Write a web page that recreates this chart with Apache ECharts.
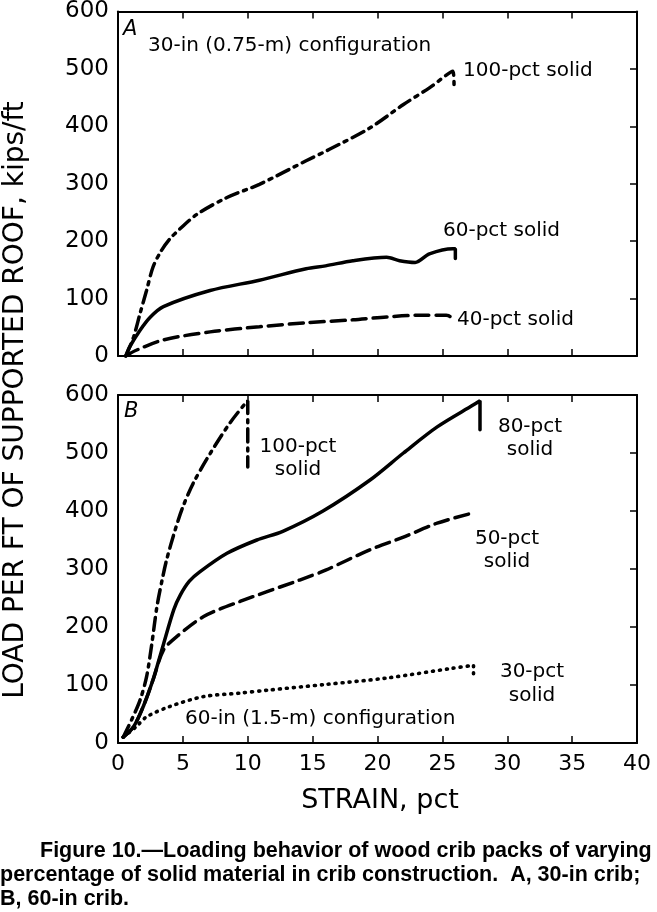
<!DOCTYPE html>
<html><head><meta charset="utf-8">
<script src="https://cdn.jsdelivr.net/npm/echarts@6/dist/echarts.min.js"></script>
<style>html,body{margin:0;padding:0;background:#fff}#c{width:657px;height:912px}</style>
</head><body><div id="c"></div>
<script>
// ---- data (strain pct, load kips/ft) ----
const xTicks = [0,5,10,15,20,25,30,35,40];
const yTicks = [0,100,200,300,400,500,600];
// Panel A: 30-in configuration
const a100 = [[0.6,0],[1.2,33],[1.7,74],[2.2,114],[2.7,155],[3.3,182],[4.0,204],[4.8,222],[6.1,247],[8.4,276],[10.9,299],[14.5,340],[16.3,360],[19.4,397],[22.0,438],[24.0,467],[25.8,496],[25.9,470]];
const a60 = [[0.6,0],[0.9,16],[1.7,45],[2.5,68],[3.5,86],[7.1,114],[10.9,132],[14.5,152],[16.0,157],[18.1,166],[20.7,172],[21.7,166],[22.9,163],[24.0,178],[25.8,187],[26.0,187],[26.0,170]];
const a40 = [[0.6,0],[1.4,10],[3.5,28],[7.1,42],[10.9,51],[14.5,58],[18.1,63],[20.7,68],[23.3,71],[25.3,71],[25.6,68],[25.6,60]];
// Panel B: 60-in configuration
const b100 = [[0.4,10],[1.05,40],[1.7,74],[2.2,114],[2.6,170],[3.0,235],[3.4,281],[3.75,316],[4.4,367],[5.0,407],[5.8,448],[7.1,499],[8.6,551],[9.9,588],[10.0,590],[10.0,476]];
const b80 = [[0.4,10],[1.2,28],[1.95,63],[2.7,109],[3.5,170],[4.3,230],[4.8,255],[5.5,279],[6.3,295],[8.4,327],[10.7,350],[12.7,365],[15.8,400],[19.4,453],[22.0,500],[24.6,545],[27.4,583],[27.9,590],[27.9,540]];
const b50 = [[0.4,10],[1.2,28],[1.95,63],[2.7,109],[3.5,160],[4.5,183],[6.6,218],[9.4,244],[14.0,281],[16.0,298],[19.4,333],[22.0,355],[24.6,379],[27.4,397]];
const b30 = [[0.4,10],[1.4,28],[2.2,45],[4.0,63],[6.6,80],[9.4,86],[11.5,91],[16.0,101],[20.7,112],[25.8,129],[27.4,134],[27.4,117]];

const FONT = 'DejaVu Sans';
const chart = echarts.init(document.getElementById('c'), null, {renderer:'canvas'});
const axisLine = {show:true, onZero:false, lineStyle:{color:'#000', width:2}};
const tick = {show:true, inside:true, length:7, lineStyle:{color:'#000', width:1.5}};
function xAx(grid, pos, labels){
  return {type:'value', gridIndex:grid, position:pos, min:xTicks[0], max:xTicks[xTicks.length-1], interval:5,
    axisLine, axisTick:tick, splitLine:{show:false},
    axisLabel:{show:labels, color:'#000', fontFamily:FONT, fontSize:22, margin:10}};
}
function yAx(grid, pos, labels){
  return {type:'value', gridIndex:grid, position:pos, min:yTicks[0], max:yTicks[yTicks.length-1], interval:100,
    axisLine, axisTick: labels ? {show:false} : tick, splitLine:{show:false},
    axisLabel:{show:labels, color:'#000', fontFamily:FONT, fontSize:23, margin:9}};
}
function ln(data, xi, yi, type, w){
  return {type:'line', data, xAxisIndex:xi, yAxisIndex:yi, showSymbol:false, symbol:'none', smooth:0.3,
    lineStyle:{color:'#000', width:w||3.5, type, cap:'round'}};
}
const dashDot = [13,6,3,6];
const dashed = [14,7];
const dotted = [1,6];
function txt(x, y, s, extra){
  return {type:'text', x, y, style:Object.assign({text:s, fill:'#000', font:'20px "'+FONT+'"', textVerticalAlign:'middle'}, extra||{})};
}
const capFont = 'bold 21.5px "Liberation Sans"';
chart.setOption({
  animation:false,
  grid:[{left:118, right:20, top:10, height:346},{left:118, right:20, top:395, height:348}],
  xAxis:[xAx(0,'bottom',false), xAx(0,'top',false), xAx(1,'bottom',true), xAx(1,'top',false)],
  yAxis:[yAx(0,'left',true), yAx(0,'right',false), yAx(1,'left',true), yAx(1,'right',false)],
  series:[
    ln(a100,0,0,dashDot), ln(a60,0,0,'solid'), ln(a40,0,0,dashed),
    ln(b100,2,2,dashDot), ln(b80,2,2,'solid'), ln(b50,2,2,dashed), ln(b30,2,2,dotted,3.6)
  ],
  graphic:[
    txt(123, 30, 'A', {font:'italic 21px "'+FONT+'"'}),
    txt(148, 46, '30-in (0.75-m) configuration'),
    txt(463, 71, '100-pct solid'),
    txt(443, 231, '60-pct solid'),
    txt(457, 320, '40-pct solid'),
    txt(124, 412, 'B', {font:'italic 21px "'+FONT+'"'}),
    txt(298, 458, '100-pct\nsolid', {textAlign:'center', lineHeight:23}),
    txt(530, 438, '80-pct\nsolid', {textAlign:'center', lineHeight:23}),
    txt(507, 550, '50-pct\nsolid', {textAlign:'center', lineHeight:23}),
    txt(532, 684, '30-pct\nsolid', {textAlign:'center', lineHeight:24}),
    txt(185, 719, '60-in (1.5-m) configuration'),
    {type:'text', x:16, y:400, rotation:Math.PI/2, style:{text:'LOAD PER FT OF SUPPORTED ROOF, kips/ft', fill:'#000', font:'28px "'+FONT+'"', textAlign:'center', textVerticalAlign:'middle'}},
    {type:'text', x:380, y:801, style:{text:'STRAIN, pct', fill:'#000', font:'27px "'+FONT+'"', textAlign:'center', textVerticalAlign:'middle'}},
    {type:'text', x:40, y:851, style:{text:'Figure 10.\u2014Loading behavior of wood crib packs of varying', fill:'#000', font:capFont, textVerticalAlign:'middle'}},
    {type:'text', x:0, y:875, style:{text:'percentage of solid material in crib construction.  A, 30-in crib;', fill:'#000', font:capFont, textVerticalAlign:'middle'}},
    {type:'text', x:0, y:899, style:{text:'B, 60-in crib.', fill:'#000', font:capFont, textVerticalAlign:'middle'}}
  ]
});
</script></body></html>
